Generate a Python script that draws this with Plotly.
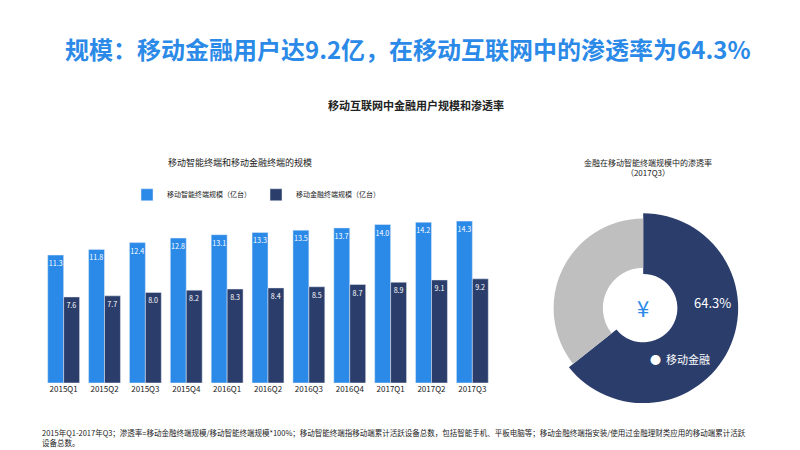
import plotly.graph_objects as go

quarters = ["2015Q1","2015Q2","2015Q3","2015Q4","2016Q1","2016Q2","2016Q3","2016Q4","2017Q1","2017Q2","2017Q3"]
smart = [11.3,11.8,12.4,12.8,13.1,13.3,13.5,13.7,14.0,14.2,14.3]
fin = [7.6,7.7,8.0,8.2,8.3,8.4,8.5,8.7,8.9,9.1,9.2]
pie_labels = ["移动金融", "其他"]
pie_values = [64.3, 35.7]

BLUE = "#2b8ae8"
NAVY = "#2b3d6b"
GREY = "#bfbfbf"
F = "Noto Sans CJK SC"

fig = go.Figure()
fig.add_bar(x=quarters, y=smart, name="移动智能终端规模（亿台）", marker_color=BLUE,
            text=[f"{v:.1f}" for v in smart], textposition="inside", insidetextanchor="end",
            textangle=0, textfont=dict(color="white", size=8))
fig.add_bar(x=quarters, y=fin, name="移动金融终端规模（亿台）", marker_color=NAVY,
            text=[f"{v:.1f}" for v in fin], textposition="inside", insidetextanchor="end",
            textangle=0, textfont=dict(color="white", size=8))
fig.add_pie(labels=pie_labels, values=[pie_values[0], pie_values[1]], hole=0.36, sort=False,
            direction="clockwise", rotation=0, marker=dict(colors=[NAVY, "rgba(0,0,0,0)"]),
            textinfo="none", showlegend=False, domain=dict(x=[0.675, 0.913], y=[0.122, 0.544]))
fig.add_pie(labels=pie_labels, values=[pie_values[0], pie_values[1]], hole=0.45, sort=False,
            direction="clockwise", rotation=0, marker=dict(colors=["rgba(0,0,0,0)", GREY]),
            textinfo="none", showlegend=False, domain=dict(x=[0.682, 0.906], y=[0.133, 0.533]))

fig.update_layout(
    width=800, height=450, margin=dict(l=0, r=0, t=0, b=0),
    paper_bgcolor="white", plot_bgcolor="white", font=dict(family=F, size=9, color="#222"),
    barmode="group", bargap=0.22, bargroupgap=0,
    xaxis=dict(domain=[0.044, 0.606], tickfont=dict(size=8), showline=False, ticks=""),
    yaxis=dict(domain=[0.1667, 0.5667], range=[0, 15.9], visible=False),
    legend=dict(orientation="h", x=0.31, y=0.585, xanchor="center", yanchor="middle",
                font=dict(size=7), itemwidth=30),
    uniformtext=dict(minsize=7, mode="show"),
)
ann = [
    dict(x=0.5, y=0.91, text="<b>规模：移动金融用户达9.2亿，在移动互联网中的渗透率为64.3%</b>",
         font=dict(size=24, color=BLUE)),
    dict(x=0.51, y=0.785, text="<b>移动互联网中金融用户规模和渗透率</b>", font=dict(size=11)),
    dict(x=0.29, y=0.656, text="移动智能终端和移动金融终端的规模", font=dict(size=9)),
    dict(x=0.8, y=0.645, text="金融在移动智能终端规模中的渗透率<br>（2017Q3）", font=dict(size=8)),
    dict(x=0.88, y=0.345, text="64.3%", font=dict(size=13, color="white")),
    dict(x=0.84, y=0.22, text="●  移动金融", font=dict(size=11, color="white")),
    dict(x=0.794, y=0.335, text="¥", font=dict(size=22, color=BLUE)),
    dict(x=0.04, y=0.045, xanchor="left", align="left",
         text="2015年Q1-2017年Q3；渗透率=移动金融终端规模/移动智能终端规模*100%；移动智能终端指移动端累计活跃设备总数，包括智能手机、平板电脑等；移动金融终端指安装/使用过金融理财类应用的移动端累计活跃<br>设备总数。",
         font=dict(size=7.5)),
]
for a in ann:
    a.setdefault("xanchor", "center")
    fig.add_annotation(xref="paper", yref="paper", yanchor="middle", showarrow=False, **a)
fig.write_html("out.html")
